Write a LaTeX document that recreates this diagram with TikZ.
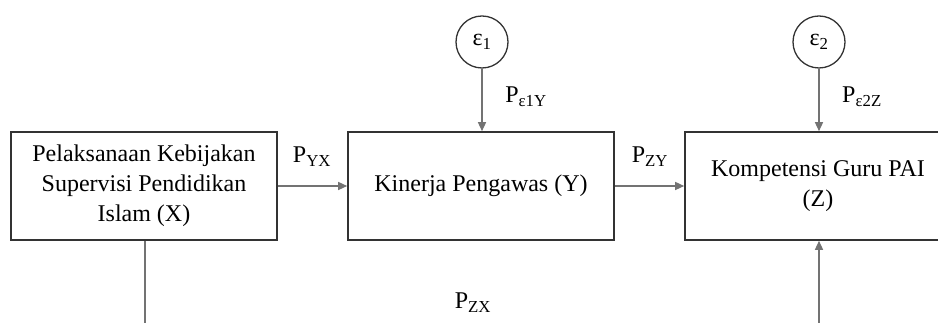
\documentclass[tikz,border=0pt]{standalone}
\usepackage{fontspec}
\setmainfont{Liberation Serif}
\usetikzlibrary{positioning,arrows.meta}

\begin{document}
\begin{tikzpicture}[x=1pt,y=1pt,>={Triangle[length=9pt,width=8pt]},
  font=\fontsize{24}{30}\selectfont,
  varbox/.style={draw=black!80,line width=1.6pt,minimum width=266pt,minimum height=108pt,align=center,inner sep=0pt},
  errnode/.style={circle,draw=black!80,line width=1.3pt,minimum size=52pt,inner sep=0pt},
  link/.style={draw=black!55,line width=1.4pt}]

\useasboundingbox (0,0) rectangle (938,323);
\clip (0,0) rectangle (938,323);

% variables
\node[varbox] (X) at (144,137) {Pelaksanaan Kebijakan\\Supervisi Pendidikan\\Islam (X)};
\node[varbox] (Y) at (481,137) {Kinerja Pengawas (Y)};
\node[varbox] (Z) at (818,137) {Kompetensi Guru PAI\\(Z)};

% residuals
\node[errnode] (e1) at (482,281) {ε\textsubscript{1}};
\node[errnode] (e2) at (819,281) {ε\textsubscript{2}};

\coordinate (xdown) at (145,-10);
\coordinate (zup) at (819,-10);

% paths
\draw[link,->] (X) -- (Y);
\draw[link,->] (Y) -- (Z);
\draw[link,->] (e1) -- (e1 |- Y.north);
\draw[link,->] (e2) -- (e2 |- Z.north);
\draw[link] (xdown |- X.south) -- (xdown);
\draw[link,->] (zup) -- (zup |- Z.south);

% coefficients
\node (pyx) at (312,166) {P\textsubscript{YX}};
\node (pzy) at (650,166) {P\textsubscript{ZY}};
\node (pe1y) at (526,226) {P\textsubscript{ε1Y}};
\node (pe2z) at (862,226) {P\textsubscript{ε2Z}};
\node (pzx) at (473,20) {P\textsubscript{ZX}};

\end{tikzpicture}
\end{document}
